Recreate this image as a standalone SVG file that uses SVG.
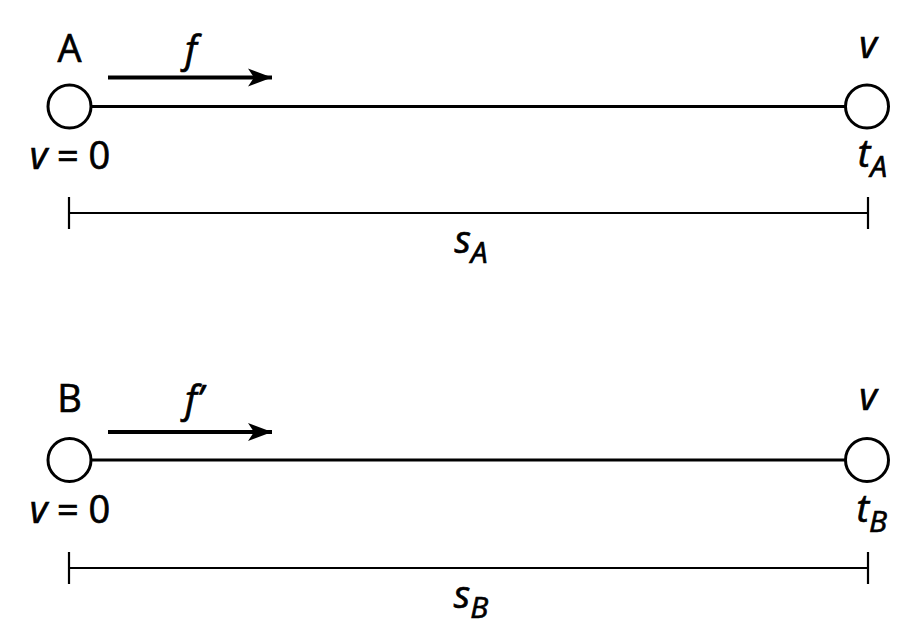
<svg xmlns="http://www.w3.org/2000/svg" width="914" height="643" viewBox="0 0 914 643">
<style>
text{font-family:"Open Sans","Noto Sans","DejaVu Sans",sans-serif;fill:#000;font-size:38px;stroke:#000;stroke-width:0.7}
.i{font-style:italic}
.sub{font-size:30px;font-style:italic}
.node{fill:#fff;stroke:#000;stroke-width:3}
.rod{stroke:#000;stroke-width:3;fill:none}
.dim{stroke:#000;stroke-width:2.2;fill:none}
.force{stroke:#000;stroke-width:4;fill:none}
</style>
<defs>
<marker id="ah" markerUnits="userSpaceOnUse" markerWidth="26" markerHeight="22" refX="24" refY="11" orient="auto" viewBox="0 0 26 22">
<path d="M0,2 L24,11 L0,20 L6,11 Z" fill="#000"/>
</marker>
</defs>
<rect width="914" height="643" fill="#fff"/>
<g id="connectors">
<line class="rod" x1="91" y1="106.5" x2="845" y2="106.5"/>
<line class="force" x1="108" y1="77.5" x2="272" y2="77.5" marker-end="url(#ah)"/>
<line class="dim" x1="69" y1="213" x2="868" y2="213"/>
<line class="dim" x1="69" y1="197" x2="69" y2="229"/>
<line class="dim" x1="868" y1="197" x2="868" y2="229"/>
<line class="rod" x1="91" y1="460" x2="845" y2="460"/>
<line class="force" x1="108" y1="432" x2="272" y2="432" marker-end="url(#ah)"/>
<line class="dim" x1="69" y1="568" x2="868" y2="568"/>
<line class="dim" x1="69" y1="552" x2="69" y2="584"/>
<line class="dim" x1="868" y1="552" x2="868" y2="584"/>
</g>
<g id="nodeA-start">
<circle class="node" cx="69.5" cy="106.5" r="21.5"/>
<text x="69.5" y="62" text-anchor="middle">A</text>
<text x="70" y="169" text-anchor="middle"><tspan class="i">v</tspan> = 0</text>
</g>
<g id="nodeA-end">
<circle class="node" cx="867" cy="106.5" r="21.5"/>
<text class="i" x="868" y="58" text-anchor="middle">v</text>
<text x="887" y="167" text-anchor="end"><tspan class="i">t</tspan><tspan class="sub" dy="10">A</tspan></text>
</g>
<g id="labelA">
<text x="191" y="63" class="i" text-anchor="middle">f</text>
<text x="471" y="253" text-anchor="middle"><tspan class="i">s</tspan><tspan class="sub" dy="10">A</tspan></text>
</g>
<g id="nodeB-start">
<circle class="node" cx="69.5" cy="460" r="21.5"/>
<text x="69.5" y="412" text-anchor="middle">B</text>
<text x="70" y="523" text-anchor="middle"><tspan class="i">v</tspan> = 0</text>
</g>
<g id="nodeB-end">
<circle class="node" cx="867" cy="460" r="21.5"/>
<text class="i" x="868" y="410" text-anchor="middle">v</text>
<text x="887" y="522" text-anchor="end"><tspan class="i">t</tspan><tspan class="sub" dy="10">B</tspan></text>
</g>
<g id="labelB">
<text x="194" y="413" class="i" text-anchor="middle">f’</text>
<text x="471" y="608" text-anchor="middle"><tspan class="i">s</tspan><tspan class="sub" dy="10">B</tspan></text>
</g>
</svg>
